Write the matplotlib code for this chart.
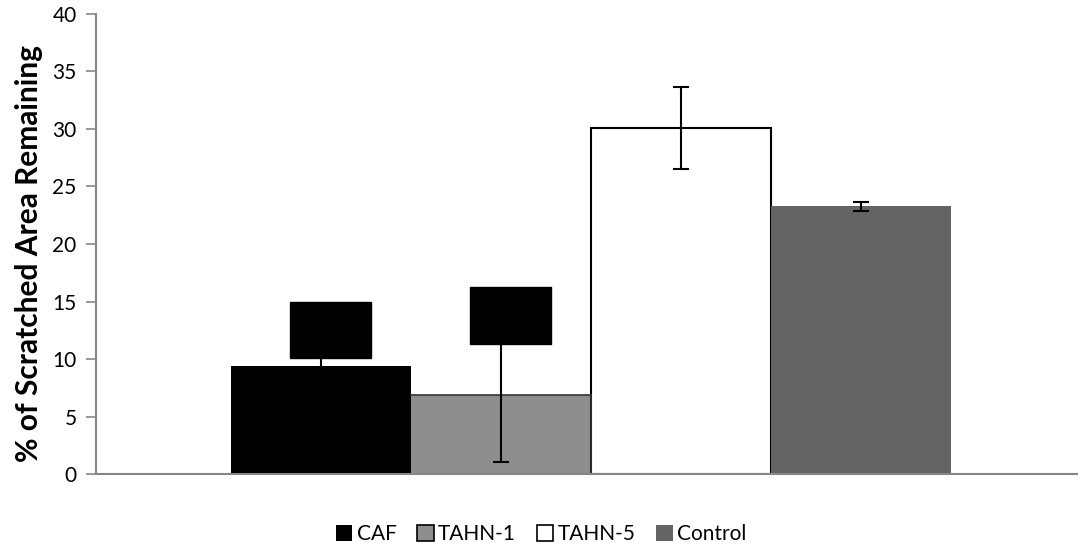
import matplotlib
matplotlib.use("Agg")
import matplotlib.pyplot as plt
from matplotlib.patches import Rectangle

categories = ["CAF", "TAHN-1", "TAHN-5", "Control"]
values = [9.4, 6.86, 30.1, 23.27]
errors = [3.0, 5.8, 3.56, 0.41]
colors = ["#000000", "#8e8e8e", "#ffffff", "#646464"]
yticks = [0, 5, 10, 15, 20, 25, 30, 35, 40]
# opaque annotation boxes over CAF and TAHN-1: (bar index, x offset, width, y bottom, y top)
boxes = [(0, 0.05, 0.45, 10.1, 15.0), (1, 0.05, 0.45, 11.3, 16.3)]

plt.rcParams['font.family'] = ['Lato', 'DejaVu Sans']
fig = plt.figure(figsize=(10.78, 5.48), dpi=100)
ax = fig.add_axes([0.0891, 0.135, 0.9109, 0.8395])

for i, (c, v, e, col) in enumerate(zip(categories, values, errors, colors)):
    edge = "#000000" if col == "#ffffff" else col
    ax.bar(i, v, width=1.0, color=col, edgecolor=edge, linewidth=1.5 if col == "#ffffff" else 0,
           label=c, zorder=2)
    ax.errorbar(i, v, yerr=e, fmt="none", ecolor="black", elinewidth=1.5, capsize=6,
                capthick=1.5, zorder=3)
# TAHN-1 thin outline
ax.plot([0.5, 1.5], [values[1], values[1]], color="#333333", lw=1.2, zorder=2.5)
ax.plot([1.5, 1.5], [0, values[1]], color="#333333", lw=1.2, zorder=2.5)

for bi, off, w, y0, y1 in boxes:
    ax.add_patch(Rectangle((bi + off - w / 2, y0), w, y1 - y0, color="black", zorder=4))

ax.set_xlim(-1.252, 4.207)
ax.set_ylim(0, 40)
ax.set_yticks(yticks)
ax.set_yticklabels([str(t) for t in yticks], fontsize=15)
ax.set_xticks([])
for s in ["top", "right"]:
    ax.spines[s].set_visible(False)
for s in ["left", "bottom"]:
    ax.spines[s].set_color("#868686")
    ax.spines[s].set_linewidth(1.5)
ax.tick_params(axis="y", direction="out", length=7, width=1.2, color="#868686", pad=7)
ax.set_ylabel("% of Scratched Area Remaining", fontsize=21.5, fontweight="bold")
ax.yaxis.set_label_coords(-0.054, 0.48)

handles, labels = ax.get_legend_handles_labels()
leg = fig.legend(handles, labels, loc="center", bbox_to_anchor=(0.502, 0.025), ncol=4,
                 frameon=False, fontsize=15, handlelength=0.8, handleheight=0.8,
                 handletextpad=0.2, columnspacing=1.0)
for h, col in zip(leg.legend_handles, colors):
    if col in ("#8e8e8e", "#ffffff"):
        h.set_edgecolor("black")
        h.set_linewidth(1.2)

fig.savefig("out.png", dpi=100)
